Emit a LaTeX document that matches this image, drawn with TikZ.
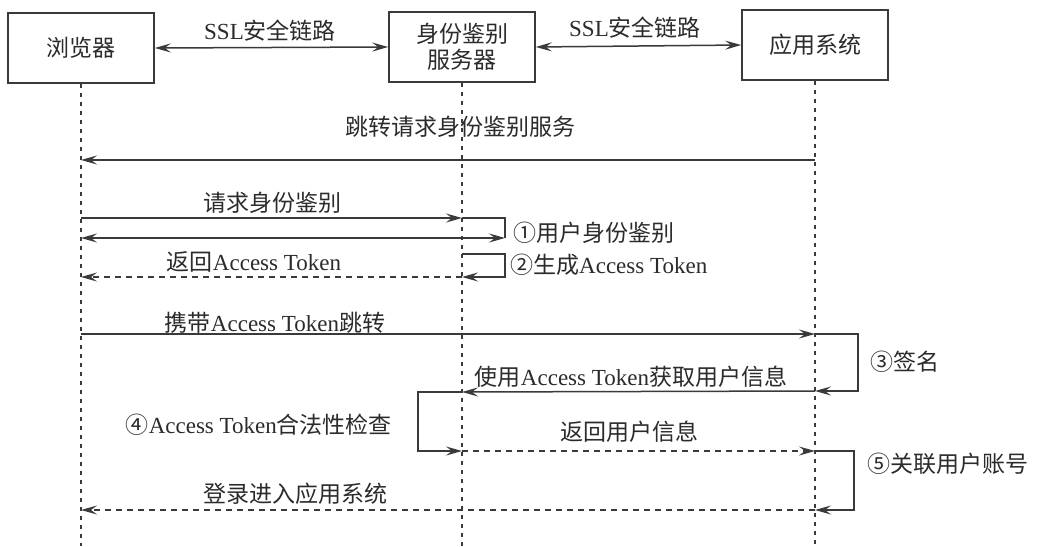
\documentclass[tikz,border=0pt]{standalone}
\usepackage{fontspec}
\setmainfont{Liberation Serif}
\newfontfamily\cjk{Noto Sans CJK SC}
\usetikzlibrary{arrows.meta}
\newcommand\zhs[1]{{\cjk #1}}
\definecolor{ink}{HTML}{3A3A3A}
\definecolor{txt}{HTML}{2B2B2B}
\begin{document}
\begin{tikzpicture}[x=1pt,y=-1pt,
  actor/.style={draw=ink,line width=1.6pt,minimum width=146pt,minimum height=70pt,inner sep=0pt,font=\fontsize{23}{28}\selectfont,text=txt,align=center},
  lbl/.style={font=\fontsize{23}{27}\selectfont,text=txt,inner sep=0pt},
  life/.style={draw=ink,line width=1.5pt,dash pattern=on 4pt off 5pt},
  msg/.style={draw=ink,line width=1.5pt,-{Stealth[length=16pt,width=9pt,inset=6pt]}},
  dmsg/.style={draw=ink,line width=1.5pt,{Stealth[length=16pt,width=9pt,inset=6pt]}-{Stealth[length=16pt,width=9pt,inset=6pt]}},
  ret/.style={msg,dash pattern=on 6pt off 5pt},
  selfl/.style={draw=ink,line width=1.5pt},
]
\useasboundingbox[fill=white] (0,0) rectangle (1040,546);

% actors
\node[actor] (b) at (81,48) {\zhs{浏览器}};
\node[actor] (s) at (462,47) {\zhs{身份鉴别}\\[-2pt]\zhs{服务器}};
\node[actor] (a) at (815,45) {\zhs{应用系统}};

% lifelines
\coordinate (bE) at (b |- 0,546);
\coordinate (sE) at (s |- 0,546);
\coordinate (aE) at (a |- 0,546);
\draw[life] (b.south) -- (bE);
\draw[life] (s.south) -- (sE);
\draw[life] (a.south) -- (aE);

% SSL links
\draw[dmsg] (b.east) -- (s.west);
\draw[dmsg] (s.east) -- (a.west);
\node[lbl] (ssl1) at (270,31) {SSL\zhs{安全链路}};
\node[lbl] (ssl2) at (635,28) {SSL\zhs{安全链路}};

% row coordinates
\coordinate (b0) at (b |- 0,160);
\coordinate (a0) at (a |- 0,160);
\coordinate (b1) at (b |- 0,218);
\coordinate (s1) at (s |- 0,218);
\coordinate (l1a) at (505,218);
\coordinate (l1b) at (505,238);
\coordinate (b1b) at (b |- 0,238);
\coordinate (s2a) at (s |- 0,254);
\coordinate (l2a) at (505,254);
\coordinate (l2b) at (505,277);
\coordinate (s2) at (s |- 0,277);
\coordinate (b2) at (b |- 0,277);
\coordinate (b3) at (b |- 0,334);
\coordinate (a3) at (a |- 0,334);
\coordinate (l3a) at (858,334);
\coordinate (l3b) at (858,391);
\coordinate (a3b) at (a |- 0,391);
\coordinate (a4) at (a |- 0,391);
\coordinate (s4) at (s |- 0,392);
\coordinate (l4a) at (418,392);
\coordinate (l4b) at (418,451);
\coordinate (s5) at (s |- 0,451);
\coordinate (a5) at (a |- 0,451);
\coordinate (l5a) at (854,451);
\coordinate (l5b) at (854,510);
\coordinate (a6) at (a |- 0,510);
\coordinate (b6) at (b |- 0,510);

% messages
\draw[msg] (a0) -- (b0);
\node[lbl] (t0) at (460,127) {\zhs{跳转请求身份鉴别服务}};

\draw[msg] (b1) -- (s1);
\draw[selfl] (s1) -- (l1a) -- (l1b);
\draw[dmsg] (b1b) -- (l1b);
\node[lbl] (t1) at (272,203) {\zhs{请求身份鉴别}};
\node[lbl,anchor=west] (n1) at (513,233) {\zhs{①用户身份鉴别}};

\draw[msg] (s2a) -- (l2a) -- (l2b) -- (s2);
\draw[ret] (s2) -- (b2);
\node[lbl] (t2) at (254,262) {\zhs{返回}Access Token};
\node[lbl,anchor=west] (n2) at (510,265) {\zhs{②生成}Access Token};

\draw[msg] (b3) -- (a3);
\draw[msg] (a3) -- (l3a) -- (l3b) -- (a3b);
\node[lbl] (t3) at (275,323) {\zhs{携带}Access Token\zhs{跳转}};
\node[lbl,anchor=west] (n3) at (870,362) {\zhs{③签名}};

\draw[msg] (a4) -- (s4);
\draw[msg] (s4) -- (l4a) -- (l4b) -- (s5);
\node[lbl] (t4) at (631,377) {\zhs{使用}Access Token\zhs{获取用户信息}};
\node[lbl,anchor=east] (n4) at (392,425) {\zhs{④}Access Token\zhs{合法性检查}};

\draw[ret] (s5) -- (a5);
\draw[msg] (a5) -- (l5a) -- (l5b) -- (a6);
\node[lbl] (t5) at (629,432) {\zhs{返回用户信息}};
\node[lbl,anchor=west] (n5) at (867,464) {\zhs{⑤关联用户账号}};

\draw[ret] (a6) -- (b6);
\node[lbl] (t6) at (295,494) {\zhs{登录进入应用系统}};
\end{tikzpicture}
\end{document}
